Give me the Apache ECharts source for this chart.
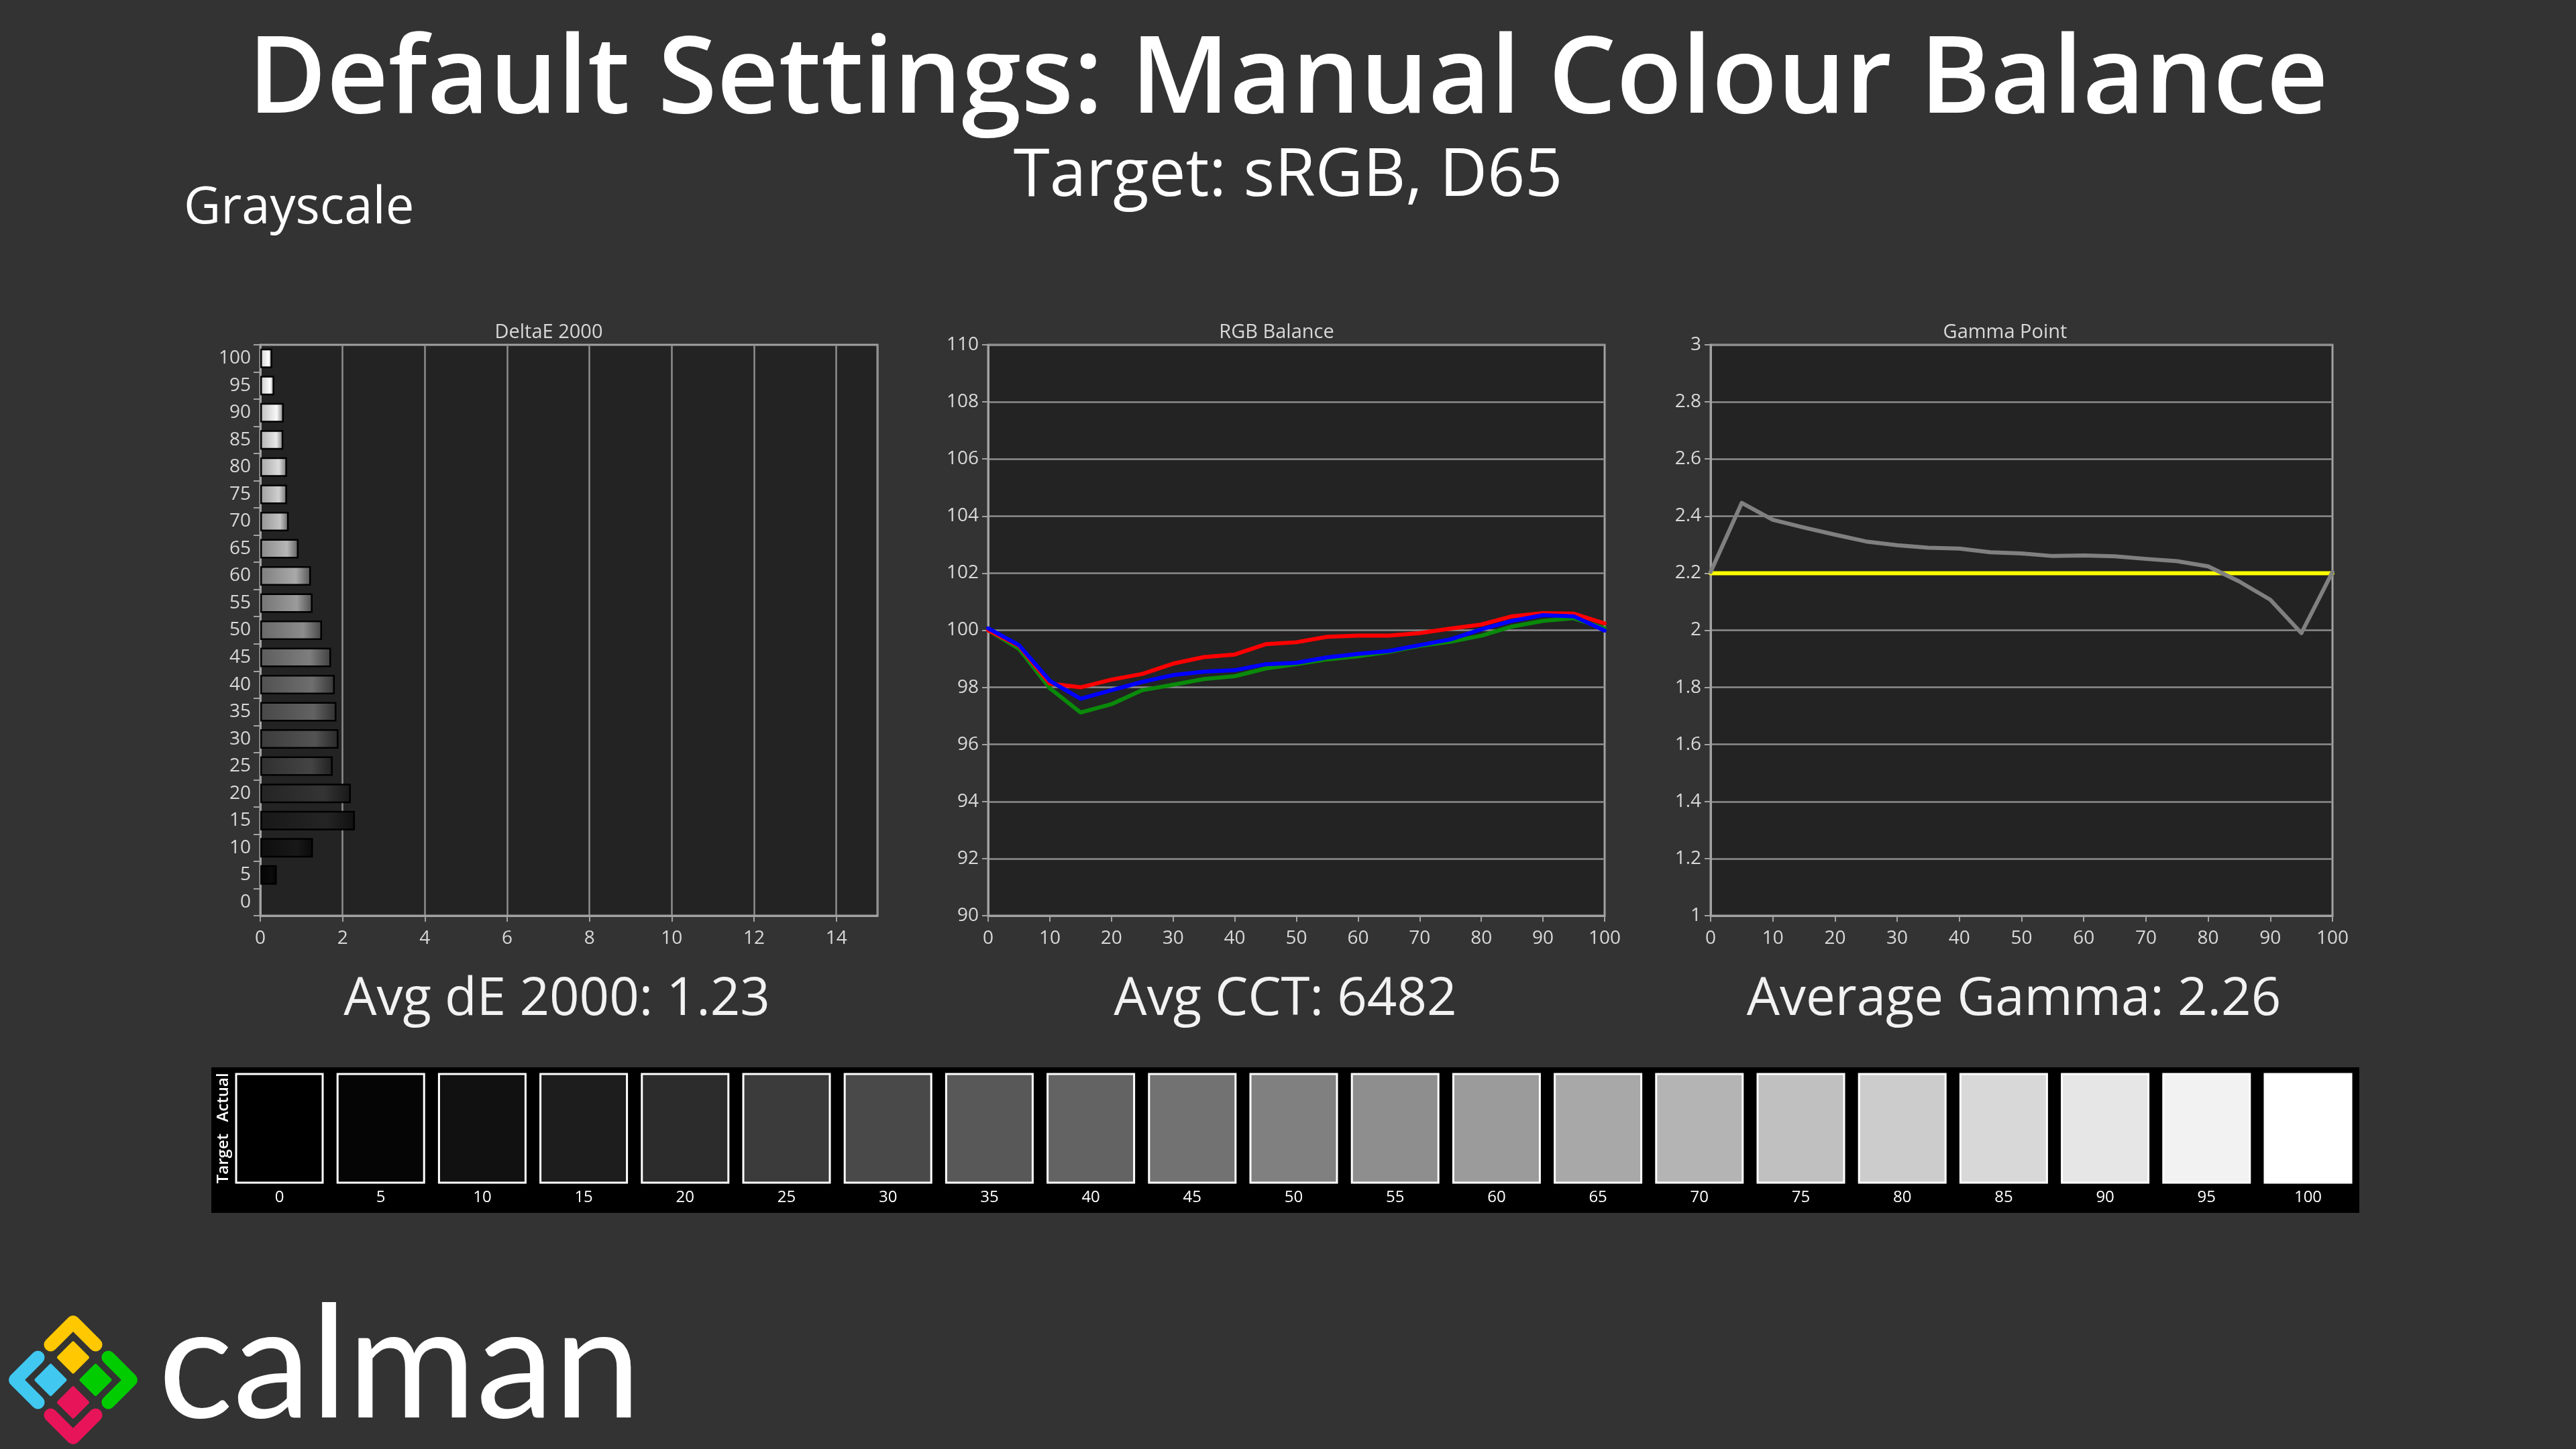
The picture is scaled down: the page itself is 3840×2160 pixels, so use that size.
<!DOCTYPE html>
<html>
<head>
<meta charset="utf-8">
<script src="https://cdn.jsdelivr.net/npm/echarts@6/dist/echarts.min.js"></script>
<style>
html,body{margin:0;padding:0;background:#333333;}
#c{width:3840px;height:2160px;}
</style>
</head>
<body>
<div id="c"></div>
<script>
// ---------- DATA ----------
const levels = [0,5,10,15,20,25,30,35,40,45,50,55,60,65,70,75,80,85,90,95,100];
const levelLabels = ['0','5','10','15','20','25','30','35','40','45','50','55','60','65','70','75','80','85','90','95','100'];
const deltaE = [0,0.40,1.28,2.30,2.20,1.76,1.90,1.85,1.81,1.72,1.50,1.27,1.23,0.93,0.69,0.65,0.65,0.56,0.57,0.34,0.29];
const rgbRed   = [100.00,99.45,98.13,98.00,98.27,98.47,98.83,99.06,99.15,99.51,99.58,99.77,99.81,99.81,99.90,100.06,100.20,100.49,100.60,100.58,100.24];
const rgbGreen = [100.00,99.35,97.97,97.12,97.41,97.90,98.09,98.29,98.39,98.66,98.81,98.98,99.09,99.24,99.45,99.60,99.81,100.13,100.33,100.42,100.07];
const rgbBlue  = [100.07,99.48,98.23,97.60,97.90,98.19,98.43,98.55,98.60,98.81,98.86,99.05,99.17,99.27,99.48,99.68,100.03,100.33,100.53,100.49,99.99];
const gammaPoint = [2.204,2.446,2.387,2.360,2.335,2.311,2.298,2.289,2.286,2.273,2.269,2.260,2.262,2.259,2.250,2.242,2.224,2.171,2.107,1.990,2.204];
const gammaTarget = 2.2;
const swatchGray = ['#000000','#050505','#111111','#1d1d1d','#2c2c2c','#3b3b3b','#494949','#585858','#636363','#727272','#808080','#8e8e8e','#9b9b9b','#a8a8a8','#b4b4b4','#c0c0c0','#cccccc','#d8d8d8','#e6e6e6','#f2f2f2','#ffffff'];
const mainTitle = 'Default Settings: Manual Colour Balance';
const subTitle = 'Target: sRGB, D65';
const sectionTitle = 'Grayscale';
const chartTitles = ['DeltaE 2000','RGB Balance','Gamma Point'];
const summaries = ['Avg dE 2000: 1.23','Avg CCT: 6482','Average Gamma: 2.26'];

// ---------- STYLE ----------
const FONT = '"Open Sans","Noto Sans",sans-serif';
const frameColor = '#a2a2a2';
const gridLineColor = '#8e8e8e';
const labelColor = '#d8d8d8';
const plotBg = '#232323';
const grids = [
  {left:388, top:514, width:920, height:851},
  {left:1473, top:514, width:919, height:851},
  {left:2550, top:514, width:927, height:851}
];
const chartTitleX = [818, 1903, 2989];
const summaryX = [830, 1916, 3002];

function shade(hex, f, add) {
  const v = parseInt(hex.slice(1,3),16);
  const n = Math.max(0, Math.min(255, Math.round(v*f + (add||0))));
  const h = n.toString(16).padStart(2,'0');
  return '#'+h+h+h;
}
function barGradient(hex) {
  return new echarts.graphic.LinearGradient(0,0,1,0,[
    {offset:0, color:shade(hex,0.82)},
    {offset:0.7, color:shade(hex,1.05,6)},
    {offset:1, color:shade(hex,0.55)}
  ]);
}

const axisLabelBase = {color:labelColor, fontSize:28, fontFamily:FONT};
const tickBase = {show:true, length:9, lineStyle:{color:frameColor, width:2}};
const splitBase = {show:true, lineStyle:{color:gridLineColor, width:2.5}};

const xAxes = [
  {type:'value', gridIndex:0, min:0, max:15, interval:2,
   axisLine:{show:true, lineStyle:{color:frameColor,width:3}}, axisTick:tickBase,
   axisLabel:Object.assign({margin:20, showMaxLabel:false}, axisLabelBase), splitLine:splitBase},
  {type:'value', gridIndex:1, min:0, max:100, interval:10,
   axisLine:{show:true, lineStyle:{color:frameColor,width:3}}, axisTick:tickBase,
   axisLabel:Object.assign({margin:20}, axisLabelBase), splitLine:{show:false}},
  {type:'value', gridIndex:2, min:0, max:100, interval:10,
   axisLine:{show:true, lineStyle:{color:frameColor,width:3}}, axisTick:tickBase,
   axisLabel:Object.assign({margin:20}, axisLabelBase), splitLine:{show:false}}
];
const yAxes = [
  {type:'category', gridIndex:0, data:levelLabels,
   axisLine:{show:true, lineStyle:{color:frameColor,width:3}},
   axisTick:{show:true, length:10, interval:0, lineStyle:{color:frameColor,width:2}},
   axisLabel:Object.assign({margin:14, interval:0}, axisLabelBase), splitLine:{show:false}},
  {type:'value', gridIndex:1, min:90, max:110, interval:2,
   axisLine:{show:true, lineStyle:{color:frameColor,width:3}}, axisTick:tickBase,
   axisLabel:Object.assign({margin:14}, axisLabelBase), splitLine:splitBase},
  {type:'value', gridIndex:2, min:1, max:3, interval:0.2,
   axisLine:{show:true, lineStyle:{color:frameColor,width:3}}, axisTick:tickBase,
   axisLabel:Object.assign({margin:14}, axisLabelBase), splitLine:splitBase}
];

function pairs(arr){ return levels.map((x,i)=>[x, arr[i]]); }
function lineSeries(name, arr, color, xi, z){
  return {name:name, type:'line', xAxisIndex:xi, yAxisIndex:xi, data:pairs(arr),
    showSymbol:false, symbol:'none', z:z, animation:false,
    lineStyle:{color:color, width:6, cap:'round', join:'round'}};
}

const series = [
  {name:'DeltaE 2000', type:'bar', xAxisIndex:0, yAxisIndex:0, barWidth:29, animation:false,
   data: deltaE.map((v,i)=>({value:v, itemStyle:{color:barGradient(swatchGray[i]), borderColor:'#000000', borderWidth: v>0?2.5:0}}))},
  lineSeries('Green', rgbGreen, '#0a8a0a', 1, 3),
  lineSeries('Red', rgbRed, '#ff0000', 1, 4),
  lineSeries('Blue', rgbBlue, '#0000ff', 1, 5),
  lineSeries('Target', levels.map(()=>gammaTarget), '#ffff00', 2, 3),
  lineSeries('Gamma', gammaPoint, '#808080', 2, 4)
];

// ---------- GRAPHIC ----------
const graphic = [];
function txt(text, x, y, size, opts){
  graphic.push(Object.assign({type:'text', x:x, y:y, z:10, silent:true,
    style:Object.assign({text:text, fill:'#ffffff', font:size+'px '+FONT, align:'center', verticalAlign:'middle'}, (opts&&opts.style)||{})},
    (opts&&opts.el)||{}));
}
txt(mainTitle, 1920, 122, 160, {style:{font:'600 160px '+FONT}});
txt(subTitle, 1920, 264, 98);
txt(sectionTitle, 274, 311, 76, {style:{align:'left'}});
chartTitles.forEach((t,i)=>txt(t, chartTitleX[i], 496, 29, {style:{fill:'#d8d8d8'}}));
summaries.forEach((s,i)=>txt(s, summaryX[i], 1491, 78, {style:{fill:'#f2f2f2'}}));

// swatch strip
graphic.push({type:'rect', z:5, silent:true, shape:{x:315, y:1591, width:3202, height:217}, style:{fill:'#000000'}});
levels.forEach((lv,i)=>{
  const x = 352 + i*151.2;
  graphic.push({type:'rect', z:6, silent:true, shape:{x:x, y:1601, width:129, height:162},
    style:{fill:swatchGray[i], stroke:'#ffffff', lineWidth:3}});
  txt(levelLabels[i], x+64.5, 1785, 24, {style:{fill:'#ffffff', font:'24px '+FONT}});
});
txt('Actual', 333, 1636, 24, {style:{font:'600 24px '+FONT}, el:{rotation:Math.PI/2}});
txt('Target', 333, 1727, 24, {style:{font:'600 24px '+FONT}, el:{rotation:Math.PI/2}});

// logo
const cx = 109, cy = 2057, d = 86, tt = 0.39;
function mix(a,b,t){ return [cx + a[0] + (b[0]-a[0])*t, cy + a[1] + (b[1]-a[1])*t]; }
const T=[0,-d], L=[-d,0], R=[d,0], B=[0,d];
const chevrons = [
  {c:'#ffc800', p:[mix(T,L,tt), mix(T,T,0), mix(T,R,tt)]},
  {c:'#40c8f0', p:[mix(L,T,tt), mix(L,L,0), mix(L,B,tt)]},
  {c:'#00cc00', p:[mix(R,T,tt), mix(R,R,0), mix(R,B,tt)]},
  {c:'#e8145a', p:[mix(B,L,tt), mix(B,B,0), mix(B,R,tt)]}
];
chevrons.forEach(ch=>graphic.push({type:'polyline', z:10, silent:true, shape:{points:ch.p},
  style:{stroke:ch.c, lineWidth:20, lineCap:'round', lineJoin:'round', fill:null}}));
const smalls = [
  {c:'#ffc800', o:[0,-33.5]}, {c:'#40c8f0', o:[-33.5,0]}, {c:'#00cc00', o:[33.5,0]}, {c:'#e8145a', o:[0,33.5]}
];
const hd = 21.5;
smalls.forEach(s=>{
  const x = cx + s.o[0], y = cy + s.o[1];
  graphic.push({type:'polygon', z:10, silent:true, shape:{points:[[x,y-hd],[x+hd,y],[x,y+hd],[x-hd,y]]},
    style:{fill:s.c, stroke:s.c, lineWidth:5, lineJoin:'round'}});
});
txt('calman', 236, 2038, 233, {style:{align:'left', font:'233px Lato,"Noto Sans",sans-serif', fill:'#ffffff'}});

const chart = echarts.init(document.getElementById('c'), null, {width:3840, height:2160});
chart.setOption({
  backgroundColor:'#333333',
  animation:false,
  grid: grids.map(g=>Object.assign({show:true, backgroundColor:plotBg, borderColor:frameColor, borderWidth:3, containLabel:false}, g)),
  xAxis: xAxes,
  yAxis: yAxes,
  series: series,
  graphic: graphic
});
</script>
</body>
</html>
